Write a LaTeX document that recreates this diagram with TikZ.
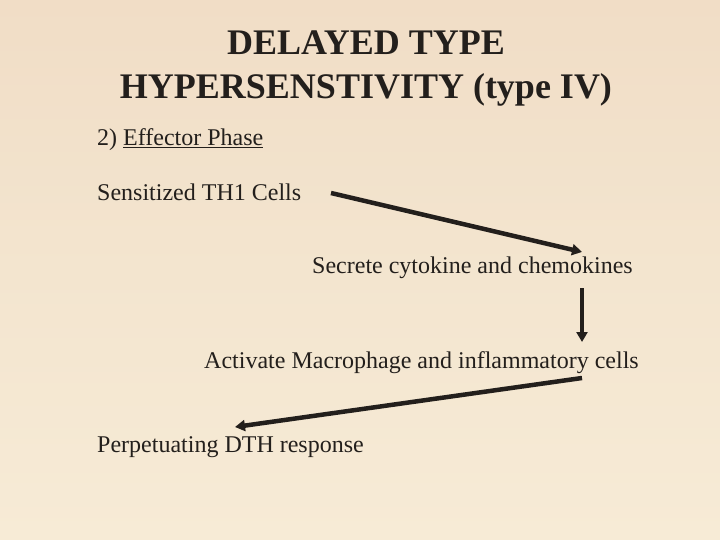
\documentclass[tikz,border=0pt]{standalone}
\usepackage{fontspec}
\setmainfont{Liberation Serif}
\usetikzlibrary{arrows.meta}
\definecolor{bgtop}{HTML}{F1DDC6}
\definecolor{bgmid}{HTML}{F3E5CF}
\definecolor{bgbot}{HTML}{F7EBD6}
\definecolor{ink}{HTML}{231F1C}
\tikzset{
  body/.style={inner sep=0pt, anchor=base west, font=\fontsize{24}{28}\selectfont, text=ink},
  ttl/.style={inner sep=0pt, anchor=base, font=\fontsize{36}{40}\selectfont\bfseries, text=ink},
  flow/.style={line width=4.5pt, draw=ink, -{Triangle[length=10pt,width=11pt]}}
}
\begin{document}
\begin{tikzpicture}[x=1pt,y=-1pt]
\useasboundingbox (0,0) rectangle (720,540);
\shade[top color=bgtop, bottom color=bgbot, middle color=bgmid] (0,0) rectangle (720,540);
\node[ttl] (t1) at (366,55) {DELAYED TYPE};
\node[ttl] (t2) at (366,99) {HYPERSENSTIVITY (type IV)};
\node[body] (phase) at (97,146) {2) \underline{Effector Phase}};
\node[body] (sens) at (97,201) {Sensitized TH1 Cells};
\node[body] (secr) at (312,273) {Secrete cytokine and chemokines};
\node[body] (act) at (204,368) {Activate Macrophage and inflammatory cells};
\node[body] (perp) at (97,452) {Perpetuating DTH response};
\coordinate (a1s) at (331,193);
\coordinate (a1e) at (582,252);
\coordinate (a2s) at (582,288);
\coordinate (a2e) at (582,342);
\coordinate (a3s) at (582,378);
\coordinate (a3e) at (235,427);
\draw[flow] (a1s) -- (a1e);
\draw[flow] (a2s) -- (a2e);
\draw[flow] (a3s) -- (a3e);
\end{tikzpicture}
\end{document}
